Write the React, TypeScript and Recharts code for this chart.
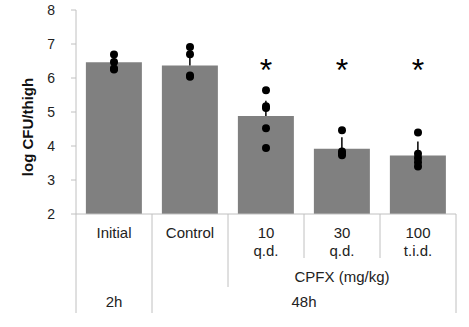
import React from "react";
import {
  Bar,
  ComposedChart,
  ErrorBar,
  Scatter,
  XAxis,
  YAxis,
} from "recharts";

const groups = ["Initial", "Control", "10", "30", "100"];
const doses = ["", "", "q.d.", "q.d.", "t.i.d."];
const means = [6.46, 6.37, 4.88, 3.92, 3.72];
const sdUp = [0.2, 0.5, 0.45, 0.34, 0.41];
const sigGroups = ["10", "30", "100"];
const sigLevel = 6.45;

// individual animals
const points: { name: string; v: number }[] = [
  { name: "Initial", v: 6.69 },
  { name: "Initial", v: 6.47 },
  { name: "Initial", v: 6.28 },
  { name: "Initial", v: 6.25 },
  { name: "Control", v: 6.91 },
  { name: "Control", v: 6.7 },
  { name: "Control", v: 6.07 },
  { name: "Control", v: 6.04 },
  { name: "10", v: 5.64 },
  { name: "10", v: 5.17 },
  { name: "10", v: 5.12 },
  { name: "10", v: 4.52 },
  { name: "10", v: 3.94 },
  { name: "30", v: 4.46 },
  { name: "30", v: 3.84 },
  { name: "30", v: 3.78 },
  { name: "30", v: 3.73 },
  { name: "100", v: 4.4 },
  { name: "100", v: 3.77 },
  { name: "100", v: 3.65 },
  { name: "100", v: 3.52 },
  { name: "100", v: 3.4 },
];

const data = groups.map((name, i) => ({
  name,
  dose: doses[i],
  mean: means[i],
  err: [0, sdUp[i]],
}));
const sigData = sigGroups.map((name) => ({ name, v: sigLevel }));

const FONT = "'Liberation Sans', Arial, sans-serif";
const GRID = "#c0c0c0";
const INK = "#222";
const BAND = 76;

function CategoryTick(props: any) {
  const { x, y, index } = props;
  const left = x - BAND / 2;
  const lens = [99, 99, 73, 44, 44];
  const d = data[index];
  return (
    <g fontFamily={FONT} fontSize={15}>
      <line x1={left} x2={left} y1={y} y2={y + lens[index]} stroke={GRID} />
      {index === groups.length - 1 && (
        <line x1={left + BAND} x2={left + BAND} y1={y} y2={y + 99} stroke={GRID} />
      )}
      <text x={x} y={y + 24} textAnchor="middle" fill={INK}>
        {d.name}
      </text>
      {d.dose && (
        <text x={x} y={y + 42} textAnchor="middle" fill={INK}>
          {d.dose}
        </text>
      )}
      {index === 3 && (
        <text x={x} y={y + 68} textAnchor="middle" fill={INK}>
          CPFX (mg/kg)
        </text>
      )}
      {index === 0 && (
        <text x={x} y={y + 93} textAnchor="middle" fill={INK}>
          2h
        </text>
      )}
      {index === 3 && (
        <text x={x - BAND / 2} y={y + 93} textAnchor="middle" fill={INK}>
          48h
        </text>
      )}
    </g>
  );
}

const YLabel = () => (
  <text
    transform="translate(33,127) rotate(-90)"
    textAnchor="middle"
    fontFamily={FONT}
    fontSize={15}
    fontWeight="bold"
    fill="#111">
    log CFU/thigh
  </text>
);

const Dot = (p: any) => <circle cx={p.cx} cy={p.cy} r={4} fill="#000" />;
const Star = (p: any) => (
  <text
    x={p.cx}
    y={p.cy + 18}
    textAnchor="middle"
    fontFamily={FONT}
    fontSize={32}
    fill="#000">
    *
  </text>
);

export default function App() {
  return (
    <div style={{ position: "absolute", left: 0, top: 0, background: "#fff" }}>
      <ComposedChart
        width={469}
        height={327}
        data={data}
        barCategoryGap="13%"
        margin={{ top: 10, right: 13, bottom: 0, left: 0 }}>
        <XAxis
          dataKey="name"
          type="category"
          allowDuplicatedCategory={false}
          height={113}
          stroke={GRID}
          tickLine={false}
          tickSize={0}
          tickMargin={0}
          interval={0}
          tick={<CategoryTick />}
        />
        <YAxis
          type="number"
          domain={[2, 8]}
          ticks={[2, 3, 4, 5, 6, 7, 8]}
          width={76}
          stroke={GRID}
          tickSize={5}
          tickMargin={16}
          tick={{ fontSize: 14, fill: INK, fontFamily: FONT }}
          label={<YLabel />}
        />
        <Bar dataKey="mean" fill="#808080" isAnimationActive={false}>
          <ErrorBar dataKey="err" width={0} stroke="#000" strokeWidth={1.5} direction="y" />
        </Bar>
        <Scatter data={points} dataKey="v" shape={<Dot />} isAnimationActive={false} />
        <Scatter data={sigData} dataKey="v" shape={<Star />} isAnimationActive={false} />
      </ComposedChart>
    </div>
  );
}
